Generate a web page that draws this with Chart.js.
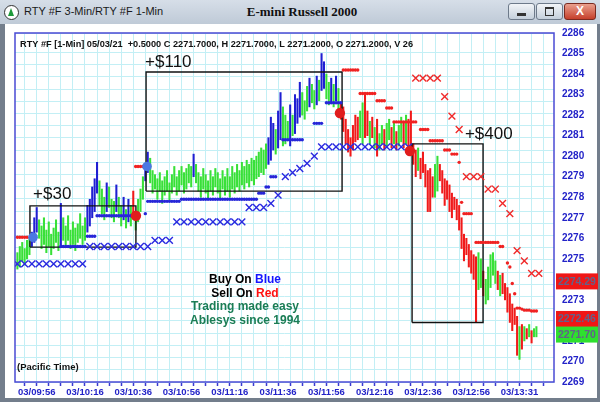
<!DOCTYPE html>
<html><head><meta charset="utf-8">
<script src="https://cdn.jsdelivr.net/npm/chart.js@4"></script>
<style>
html,body{margin:0;padding:0;}
body{width:600px;height:402px;position:relative;overflow:hidden;background:#737e8c;font-family:'Liberation Sans',Arial,sans-serif;}
#titlebar{position:absolute;left:0;top:0;width:600px;height:24px;background:linear-gradient(#d6dee8,#bfcad7);}
#content{position:absolute;left:5px;top:24px;width:592px;height:374px;background:#fff;}
#wrap{position:absolute;left:0;top:0;width:600px;height:402px;}
#icon{position:absolute;left:4px;top:5px;width:13px;height:13px;border:1.5px solid #333;border-radius:50%;background:#fff;}
#tri{position:absolute;left:3px;top:2px;width:0;height:0;border-left:3.5px solid transparent;border-right:3.5px solid transparent;border-bottom:8px solid #1e9a3a;}
#ttl{position:absolute;left:24px;top:5px;font-size:11px;color:#1a1a1a;font-family:'Liberation Sans',sans-serif;}
#mid{position:absolute;left:0;width:604px;top:4px;text-align:center;font:bold 13px 'Liberation Serif',serif;color:#111;}
.btn{position:absolute;top:3px;height:15px;border:1px solid #6d7a8a;border-radius:3px;background:linear-gradient(#f2f5f8,#c4cfdb);}
</style></head>
<body>
<div id="titlebar"></div>
<div id="content"></div>
<div id="icon"><div id="tri"></div></div>
<div id="ttl">RTY #F 3-Min/RTY #F 1-Min</div>
<div id="mid">E-mini Russell 2000</div>
<div class="btn" style="left:508px;width:25px"><div style="position:absolute;left:8px;top:9px;width:9px;height:3px;background:#333;"></div></div>
<div class="btn" style="left:536px;width:25px"><div style="position:absolute;left:8px;top:3px;width:7px;height:6px;border:1.5px solid #333;border-top-width:2.5px;"></div></div>
<div class="btn" style="left:564px;width:30px;background:linear-gradient(#eaa08e,#c53f2b);border-color:#7a2a20;"><div style="position:absolute;left:0;width:30px;top:0;text-align:center;font:bold 12px 'Liberation Sans';color:#fff;">X</div></div>
<div id="wrap"><canvas id="cv" width="600" height="402"></canvas></div>
<script>
// ---------- data ----------
const firstBar = -8;
const barLow = [
2274.5,2274.6,2274.9,2274.7,2275.0,2275.2,2275.6,2275.8,2276.3,2276.0,
2275.5,2275.7,2275.3,2275.6,2275.2,2275.5,2275.8,2275.4,2275.6,2275.9,
2275.6,2275.9,2275.5,2275.7,2275.4,2275.8,2276.0,2275.7,2275.9,2276.3,
2276.6,2277.0,2277.3,2278.2,2277.6,2277.2,2276.9,2277.3,2277.5,2277.0,
2276.8,2277.3,2277.0,2276.6,2276.9,2276.5,2276.8,2276.6,2277.0,2276.4,
2276.8,2277.3,2277.9,2278.8,2279.2,2278.7,2278.2,2278.4,2277.9,2278.3,
2277.7,2278.1,2278.3,2277.8,2278.2,2278.5,2278.1,2278.3,2278.6,2278.2,
2278.4,2278.7,2278.5,2279.0,2278.7,2278.3,2278.0,2278.4,2278.2,2277.9,
2278.3,2278.1,2278.5,2278.2,2277.9,2278.4,2278.1,2278.3,2278.0,2278.4,
2278.2,2278.5,2278.3,2278.6,2278.4,2278.7,2278.5,2278.8,2278.6,2278.9,
2279.0,2279.2,2279.1,2279.4,2279.6,2279.8,2280.3,2280.1,2280.4,2280.8,
2280.5,2280.6,2280.8,2280.5,2281.0,2281.1,2281.6,2281.9,2282.0,2281.8,
2282.2,2282.4,2282.6,2282.3,2282.5,2282.7,2283.2,2283.3,2282.8,2282.5,
2282.6,2282.4,2282.7,2282.3,2281.8,2281.2,2280.6,2280.2,2280.0,2280.3,
2280.7,2280.8,2280.9,2280.6,2280.9,2281.0,2280.6,2280.9,2280.4,2280.0,
2280.3,2280.6,2280.3,2280.5,2280.8,2280.4,2280.6,2280.3,2280.5,2280.7,
2280.4,2280.6,2280.3,2280.2,2279.6,2279.0,2279.3,2278.9,2279.2,2278.5,
2277.3,2277.3,2278.0,2278.0,2278.3,2278.8,2278.2,2277.6,2277.9,2277.3,
2277.0,2277.4,2276.9,2276.4,2275.5,2274.9,2275.2,2274.6,2274.3,2274.0,
2271.9,2273.5,2273.6,2273.2,2272.8,2273.0,2273.6,2274.2,2273.8,2273.5,
2273.2,2273.3,2273.0,2272.4,2271.9,2271.5,2271.8,2270.3,2270.1,2270.6,
2271.0,2271.1,2271.2,2270.9,2271.2,2271.2];
const barHigh = [
2275.3,2275.6,2275.8,2275.5,2275.9,2276.0,2276.3,2277.0,2277.5,2276.9,
2276.6,2277.0,2276.4,2276.8,2276.2,2276.5,2276.9,2276.3,2277.7,2277.0,
2276.6,2277.1,2276.4,2276.8,2276.5,2276.7,2277.2,2276.6,2277.0,2277.6,
2277.9,2278.5,2278.9,2279.7,2278.8,2278.4,2278.0,2278.7,2278.5,2277.9,
2277.8,2278.6,2278.0,2277.6,2278.0,2277.4,2277.9,2277.6,2278.3,2277.3,
2277.9,2278.4,2279.0,2279.6,2280.2,2279.9,2279.3,2279.1,2278.9,2279.2,
2278.8,2279.0,2279.3,2278.7,2279.1,2279.5,2279.0,2279.3,2279.5,2279.2,
2279.4,2279.6,2279.5,2280.1,2279.6,2279.2,2279.0,2279.4,2279.1,2278.8,
2279.3,2279.0,2279.4,2279.2,2278.9,2279.3,2279.0,2279.4,2279.0,2279.5,
2279.2,2279.6,2279.3,2279.7,2279.5,2279.8,2279.6,2279.9,2279.8,2280.0,
2280.2,2280.4,2280.3,2280.6,2280.9,2281.9,2281.6,2281.3,2282.2,2283.1,
2282.4,2282.0,2281.7,2282.5,2282.0,2283.0,2282.8,2283.6,2283.1,2282.7,
2283.4,2283.8,2283.5,2283.2,2283.9,2283.7,2285.0,2284.6,2284.0,2283.6,
2283.8,2283.5,2283.9,2283.3,2282.6,2282.4,2281.8,2281.3,2280.9,2281.5,
2282.0,2281.9,2282.2,2282.6,2283.0,2282.2,2281.7,2281.9,2281.4,2281.8,
2281.1,2281.5,2281.3,2281.6,2281.8,2281.4,2281.7,2281.2,2281.5,2281.9,
2281.6,2282.0,2281.8,2282.2,2280.6,2280.3,2280.4,2279.9,2280.2,2279.6,
2279.3,2279.4,2279.0,2279.6,2280.0,2279.6,2279.3,2278.9,2278.8,2278.6,
2278.2,2278.0,2277.9,2277.6,2277.0,2276.2,2276.0,2275.7,2275.4,2275.2,
2275.1,2275.3,2275.0,2274.4,2274.0,2274.6,2275.2,2275.3,2274.9,2274.4,
2274.2,2274.3,2273.8,2273.6,2273.3,2272.8,2272.6,2272.2,2271.7,2271.8,
2271.7,2271.6,2271.8,2271.5,2271.6,2271.7];
// g = neutral (green), b = buy (blue), r = sell (red)
const barSide = ("ggggggbbbg"+"ggggggggbg"+"gggggggggb"+"bbbbgggbgg"+"gbggbgbgrg"+
  "gggbbggggg"+"gggggggggg"+"gggbgggggg"+"gggggggggg"+"gggggggggg"+
  "ggggbbbgbb"+"gggbgbbbgg"+"gbggbgbbgg"+"bgbgrrrrrr"+"rrggrrgrgr"+
  "ggrggrgrgg"+"rgrrrrgrrr"+"rrrggrrrrr"+"rrrrrrrrrr"+"rggrgggggr"+
  "grrrrrrrgr"+"grgrgg").split('');

// long trailing stop (blue dots), one per 1-min bar, starting at bar 10
const blueStopStart = 10;
const blueStop = [
2275.6,2275.6,2275.6,2275.6,2275.6,2275.6,2275.6,2275.6,2275.6,2275.6,2275.6,
2276.1,2276.1,2276.1,2276.1,
2277.1,2277.1,2277.1,2277.1,2277.1,2277.1,2277.1,2277.1,2277.1,2277.1,2277.1,2277.1,2277.1,2277.1,2277.1,
null,null,null,null,null,
2277.2,
2277.8,2277.8,2277.8,2277.8,2277.8,2277.8,2277.8,2277.8,2277.8,2277.8,2277.8,2277.8,2277.8,2277.8,
2277.9,2277.9,2277.9,2277.9,2277.9,2277.9,2277.9,2277.9,2277.9,2277.9,2277.9,2277.9,2277.9,2277.9,2277.9,2277.9,
2277.9,2277.9,2277.9,2277.9,2277.9,2277.9,2277.9,2277.9,2277.9,2277.9,2277.9,2277.9,2277.9,2277.9,2277.9,2277.9,
2278.2,2278.2,2278.2,
2278.5,2278.5,
2279.0,2279.0,2279.0,
null,null,
2280.8,2280.8,2280.8,2280.8,2280.8,2280.8,2280.8,2280.8,2280.8,
null,null,null,null,
2281.6,2281.6,2281.6,2281.6,
null,
2282.6,2282.6,2282.6,2282.6,2282.6,2282.6,2282.6];

// short trailing stop (red dots)
const redStopEarlyStart = -8;
const redStopEarly = [2276.05,2276.05,2276.05,2276.05,2276.05];
const redStopMidStart = 41;
const redStopMid = [2279.5,2279.5,2279.5,2279.5];
const redStopLateStart = 127;
const redStopLate = [
2284.2,2284.2,2284.2,2284.2,2284.2,2284.2,2284.2,
2283.05,2283.05,2283.05,2283.05,2283.05,2283.05,2283.05,
2282.7,2282.7,2282.7,2282.7,
2282.35,2282.35,2282.35,
2281.67,2281.67,2281.67,2281.67,2281.67,2281.67,2281.67,2281.67,2281.67,2281.67,
null,
2281.3,2281.3,2281.3,2281.3,
2280.75,2280.75,2280.75,2280.75,2280.75,2280.75,
2280.3,2280.3,2280.3,
2280.1,2280.1,2280.1,
2279.7,
2277.75,
2277.2,2277.2,2277.2,2277.2,
null,
2275.8,2275.8,2275.8,2275.8,2275.8,2275.8,2275.8,2275.8,2275.8,2275.8,
2275.6,2275.6,
null,
2274.8,2274.6,2273.8,2273.3,
2272.6,2272.6,2272.55,2272.5,2272.5,2272.5,2272.46,2272.46,2272.46];

// 3-min stop-and-reverse markers (X), one every 3 one-minute bars
const sarStep = 3;
const blueSarStart = -8;
const blueSar = [
2274.75,2274.75,2274.75,2274.75,2274.75,2274.75,2274.75,2274.75,2274.75,2274.75,
2275.6,2275.6,2275.6,2275.6,2275.6,2275.6,2275.6,2275.6,2275.6,
2275.9,2275.9,2275.9,
2276.8,2276.8,2276.8,2276.8,2276.8,2276.8,2276.8,2276.8,2276.8,2276.8,
2277.5,2277.5,2277.5,
2277.7,2278.1,2279.0,2279.2,2279.4,2279.65,2280.0,
2280.45,2280.45,2280.45,2280.45,2280.45,2280.45,2280.45,2280.45,2280.45,2280.45,2280.45,2280.45,2280.45];
const redSarStart = 157;
const redSar = [
2283.8,2283.8,2283.8,2283.8,2282.9,2281.95,2281.3,
2279.0,2279.0,2279.0,2278.4,2278.4,2277.7,2277.2,
2275.4,2274.9,2274.29,2274.29];

// trade signals
const buyX = [-1.5, 45.7];
const buyY = [2276.05, 2279.5];
const sellX = [41.1, 125.6, 154.6];
const sellY = [2277.1, 2282.1, 2280.25];

// trade boxes
const boxX0 = [-2.8, 45.3, 155.5];
const boxX1 = [41.1, 126.5, 184.9];
const boxLow = [2275.57, 2278.3, 2271.9];
const boxHigh = [2277.58, 2284.1, 2280.6];
const boxProfit = ['+$30', '+$110', '+$400'];

// axis
const xTickBars = [-5,0,5,10,15,20,25,30,35,40,45,50,55,60,65,70,75,80,85,90,95,100,
  105,110,115,120,125,130,135,140,145,150,155,160,165,170,175,180,185,190,195,200,205,210];
const xLabelBars = [0,20,40,60,80,100,120,140,160,180,200];
const xTickLabels = ['03/09:56','03/10:16','03/10:36','03/10:56','03/11:16','03/11:36',
  '03/11:56','03/12:16','03/12:36','03/12:56','03/13:31'];
const yMin = 2269, yMax = 2286;
const priceTags = [2274.29, 2272.46, 2271.70];
const infoText = 'RTY #F [1-Min] 05/03/21  +0.5000 C 2271.7000, H 2271.7000, L 2271.2000, O 2271.2000, V 26';

// ---------- styles ----------
const GREEN = '#38e038', BLUE = '#1f1fd2', RED = '#f01a1a';
const DOT_BLUE = '#2626d8', DOT_RED = '#f02222';
const tagColors = ['#f01616', '#f01616', '#2ee02e'];

const bars = barLow.map((lo, k) => ({x: firstBar + k, y: [lo, barHigh[k]]}));
const barColors = barSide.map(c => c === 'b' ? BLUE : (c === 'r' ? RED : GREEN));
const seq = (start, arr, step) => arr.map((v, k) => ({x: start + k * (step || 1), y: v})).filter(p => p.y !== null);
const pairs = (xs, ys) => xs.map((v, k) => ({x: v, y: ys[k]}));

const dotDs = (data, color) => ({type: 'line', data, showLine: false, pointRadius: 1.7,
  pointBackgroundColor: color, pointBorderWidth: 0, borderColor: color, order: 5});
const xDs = (data, color) => ({type: 'line', data, showLine: false, pointStyle: 'crossRot', pointRadius: 4.8,
  pointBorderColor: color, pointBorderWidth: 1.4, borderColor: color, order: 4});

const datasets = [
  {type: 'bar', data: bars, backgroundColor: barColors, barThickness: 1.4, borderWidth: 0, order: 10},
  dotDs(seq(blueStopStart, blueStop), DOT_BLUE),
  dotDs(seq(redStopEarlyStart, redStopEarly), DOT_RED),
  dotDs(seq(redStopMidStart, redStopMid), DOT_RED),
  dotDs(seq(redStopLateStart, redStopLate), DOT_RED),
  xDs(seq(blueSarStart, blueSar, sarStep), '#2a2ae0'),
  xDs(seq(redSarStart, redSar, sarStep), '#f02a2a'),
  {type: 'line', data: pairs(buyX, buyY), showLine: false, pointRadius: 4.8, pointBackgroundColor: '#4b78e2',
    pointBorderWidth: 0, borderColor: '#4b78e2', order: 1},
  {type: 'line', data: pairs(sellX, sellY), showLine: false, pointRadius: 5.2, pointBackgroundColor: '#e01c1c',
    pointBorderWidth: 0, borderColor: '#e01c1c', order: 1}
];
boxX0.forEach((x0, k) => {
  datasets.push({type: 'line', data: [
    {x: x0, y: boxLow[k]}, {x: boxX1[k], y: boxLow[k]}, {x: boxX1[k], y: boxHigh[k]},
    {x: x0, y: boxHigh[k]}, {x: x0, y: boxLow[k]}],
    borderColor: '#111', borderWidth: 1.4, pointRadius: 0, fill: false, tension: 0, order: 7});
});

const profitAnchor = [[-1.5, 2277.9], [44.9, 2284.33], [177.4, 2280.84]];

const decor = {
  id: 'decor',
  afterDraw(chart) {
    const {ctx, chartArea: a, scales: {x, y}} = chart;
    ctx.save();
    ctx.strokeStyle = '#4a4ad4'; ctx.lineWidth = 1.5;
    ctx.strokeRect(a.left, a.top, a.right - a.left, a.bottom - a.top);
    ctx.fillStyle = '#111'; ctx.textAlign = 'left'; ctx.textBaseline = 'middle';
    ctx.font = 'bold 9.2px "Liberation Sans"';
    ctx.fillText(infoText, 20, 44);
    ctx.font = 'bold 9.5px "Liberation Sans"';
    ctx.fillText('(Pacific Time)', 17, 367);
    // profit labels
    ctx.font = '17px "Liberation Sans"'; ctx.textBaseline = 'alphabetic';
    boxProfit.forEach((t, k) => {
      ctx.fillText(t, x.getPixelForValue(profitAnchor[k][0]), y.getPixelForValue(profitAnchor[k][1]));
    });
    // legend block
    ctx.font = 'bold 12px "Liberation Sans"'; ctx.textBaseline = 'middle';
    const lines = [
      [[ 'Buy On ', '#000' ], [ 'Blue', '#1515ff' ]],
      [[ 'Sell On ', '#000' ], [ 'Red', '#ff1010' ]],
      [[ 'Trading made easy', '#1b7d55' ]],
      [[ 'Ablesys since 1994', '#1b7d55' ]]
    ];
    const ys = [280, 293.5, 307, 320.5];
    lines.forEach((parts, k) => {
      const w = parts.reduce((s, p) => s + ctx.measureText(p[0]).width, 0);
      let cx = 245 - w / 2;
      parts.forEach(p => { ctx.fillStyle = p[1]; ctx.fillText(p[0], cx, ys[k]); cx += ctx.measureText(p[0]).width; });
    });
    // price tags on the axis
    ctx.font = 'bold 10.5px "Liberation Sans"';
    priceTags.forEach((v, k) => {
      const top = y.getPixelForValue(v);
      ctx.fillStyle = tagColors[k];
      ctx.fillRect(a.right + 2, top, 42, 16);
      ctx.fillStyle = '#62628a';
      ctx.fillText(v.toFixed(2), a.right + 4, top + 8.5);
    });
    ctx.restore();
  }
};

new Chart(document.getElementById('cv'), {
  type: 'bar',
  data: {datasets},
  options: {
    responsive: false, animation: false, events: [],
    layout: {padding: {left: 15, top: 33, right: 0, bottom: 4}},
    plugins: {legend: {display: false}, tooltip: {enabled: false}},
    scales: {
      x: {
        type: 'linear', min: -8.99, max: 214.29, offset: false,
        afterBuildTicks: s => { s.ticks = xTickBars.map(v => ({value: v})); },
        afterFit: s => { s.height = 16; },
        grid: {color: '#c3eff5', lineWidth: 1, offset: false, drawTicks: true, tickLength: 4, tickColor: '#3a3ad0', tickWidth: 1.5},
        border: {display: false},
        ticks: {autoSkip: false, maxRotation: 0, minRotation: 0, padding: 1, color: '#2323c8',
          font: {family: 'Liberation Sans', size: 9.5, weight: 'bold'},
          callback: v => { const k = xLabelBars.indexOf(v); return k >= 0 ? xTickLabels[k] : ''; }}
      },
      y: {
        type: 'linear', position: 'right', min: yMin, max: yMax,
        afterFit: s => { s.width = 46; },
        grid: {display: false, drawTicks: false},
        border: {display: false},
        ticks: {stepSize: 1, padding: 8, color: '#2323c8', font: {family: 'Liberation Sans', size: 10, weight: 'bold'},
          callback: v => String(v)}
      },
      yg: {
        type: 'linear', position: 'left', min: 0, max: 28.6,
        afterFit: s => { s.width = 0; },
        grid: {color: '#c3eff5', lineWidth: 1, drawTicks: false},
        border: {display: false},
        ticks: {display: false, stepSize: 1}
      }
    }
  },
  plugins: [decor]
});
</script>
</body></html>
